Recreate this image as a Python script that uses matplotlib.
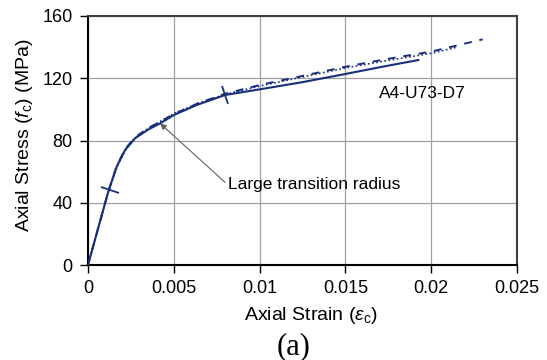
import matplotlib
matplotlib.use("Agg")
import matplotlib.pyplot as plt
from matplotlib.markers import MarkerStyle
from matplotlib.transforms import Affine2D

# Experimental (solid)
exp_strain = [0.0, 0.0006, 0.00118, 0.00167, 0.00216, 0.00274, 0.0035, 0.0042, 0.00501,
              0.00633, 0.00798, 0.01002, 0.0125, 0.01498, 0.0172, 0.01925]
exp_stress = [0.0, 24.0, 47.1, 63.2, 73.9, 81.4, 87.0, 91.0, 96.4,
              102.8, 109.2, 112.9, 117.5, 122.7, 127.5, 131.7]

# Model (dashed)
mod_strain = [0.0, 0.0006, 0.00118, 0.00167, 0.00216, 0.00274, 0.0035, 0.0042, 0.00501,
              0.00633, 0.00798, 0.01002, 0.0125, 0.015, 0.0175, 0.02, 0.023]
mod_stress = [0.0, 24.0, 47.1, 63.5, 74.5, 82.0, 88.0, 92.0, 97.0,
              103.5, 110.0, 115.7, 121.5, 127.4, 132.5, 137.1, 145.0]

# Model, large transition radius (dotted)
lt_strain = [0.0, 0.0006, 0.00118, 0.00167, 0.00216, 0.00274, 0.0035, 0.0042, 0.00501,
             0.00633, 0.00798, 0.01002, 0.0125, 0.015, 0.0175, 0.02, 0.0215]
lt_stress = [0.0, 24.0, 46.5, 62.5, 73.5, 81.5, 87.8, 92.2, 97.3,
             103.6, 109.6, 115.0, 120.8, 126.6, 131.5, 136.0, 140.0]

# Marked points on solid curve
mark_strain = [0.0013, 0.0080]
mark_stress = [48.0, 109.0]
mark_angle = [70, 15]

xticks = [0, 0.005, 0.01, 0.015, 0.02, 0.025]
xtick_labels = ["0", "0.005", "0.01", "0.015", "0.02", "0.025"]
yticks = [0, 40, 80, 120, 160]

navy = "#1a2f7a"

plt.rcParams['font.family'] = ['Liberation Sans', 'DejaVu Sans']
plt.rcParams['mathtext.fontset'] = 'custom'
plt.rcParams['mathtext.it'] = 'Liberation Sans:italic'
plt.rcParams['mathtext.rm'] = 'Liberation Sans'
fig = plt.figure(figsize=(5.47, 3.6), dpi=100)
L, R, T, B = 88, 517, 16, 265
ax = fig.add_axes([L/547, (360-B)/360, (R-L)/547, (B-T)/360])

ax.plot(lt_strain, lt_stress, color=navy, lw=1.2, ls=(0, (1, 1.5)), zorder=3)
ax.plot(mod_strain, mod_stress, color=navy, lw=1.4, ls=(0, (4, 4)), zorder=3)
ax.plot(exp_strain, exp_stress, color=navy, lw=1.5, zorder=4)

for x, y, a in zip(mark_strain, mark_stress, mark_angle):
    m = MarkerStyle('|', transform=Affine2D().rotate_deg(a))
    ax.plot([x], [y], marker=m, ms=14, mew=1.3, color=navy, ls='none', zorder=5)

ax.set_xlim(0, 0.025)
ax.set_ylim(0, 160)
ax.set_xticks(xticks)
ax.set_xticklabels(xtick_labels)
ax.set_yticks(yticks)
ax.grid(True, color="#a0a0a0", lw=0.9)
ax.set_axisbelow(True)
ax.tick_params(direction='out', length=6, width=1, labelsize=13, pad=5)

for s in ['left', 'bottom']:
    ax.spines[s].set_color('black')
    ax.spines[s].set_linewidth(1.5)
for s in ['top', 'right']:
    ax.spines[s].set_color('#404040')
    ax.spines[s].set_linewidth(1.5)

ax.set_xlabel(r"Axial Strain ($\varepsilon_{\mathrm{c}}$)", fontsize=14, va='center')
ax.xaxis.set_label_coords((311-L)/(R-L), (B-315)/(B-T))
ax.set_ylabel(r"Axial Stress ($f_{\mathrm{c}}$) (MPa)", fontsize=14, va='center', ha='center')
ax.yaxis.set_label_coords((25-L)/(R-L), (B-135)/(B-T))

ax.annotate("Large transition radius", xy=(0.0042, 91.0), xytext=(0.00815, 51.5),
            fontsize=12.5, va='center', ha='left',
            arrowprops=dict(arrowstyle='-|>', color='#606060', lw=0.8,
                            mutation_scale=9, shrinkA=0, shrinkB=0,
                            relpos=(0, 0.5)))
ax.text(0.01695, 110.5, "A4-U73-D7", fontsize=12.5, va='center', ha='left')

fig.text(294/547, 1 - 347/360, "(a)", fontsize=22, family='Liberation Serif',
         ha='center', va='center')

fig.savefig("out.png", dpi=100)
